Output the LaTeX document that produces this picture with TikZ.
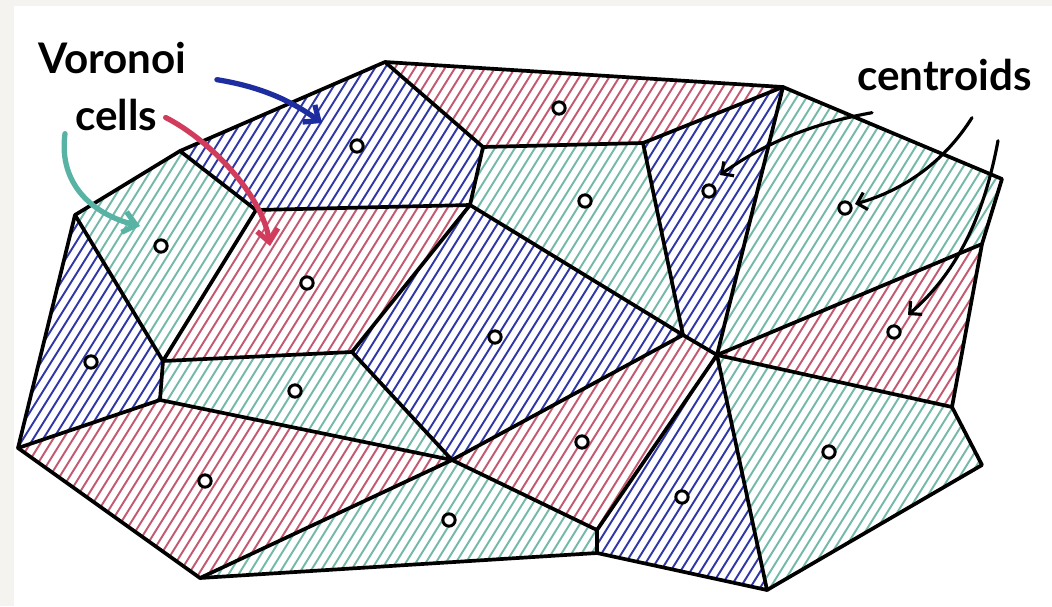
\documentclass[tikz,border=0pt]{standalone}
\usepackage{fontspec}
\setmainfont{Lato}
\usetikzlibrary{arrows.meta}

\definecolor{bleu}{HTML}{3038A8}
\definecolor{rouge}{HTML}{C45A72}
\definecolor{vert}{HTML}{74B9A9}
\definecolor{bleufleche}{HTML}{1D2C9E}
\definecolor{rougefleche}{HTML}{D23C5C}
\definecolor{vertfleche}{HTML}{58B3A5}
\definecolor{fond}{HTML}{F4F3EF}

\tikzset{
  arete/.style={line width=2.1pt, line join=round, line cap=round},
  hachure/.style={line width=1.1pt},
  centroide/.style={circle, draw, fill=white, line width=1.7pt, inner sep=0pt, minimum size=7pt},
  legende/.style={font=\bfseries\fontsize{24}{28}\selectfont, inner sep=0pt, anchor=base west},
  fleche/.style={line width=3pt, line cap=round, -{Straight Barb[length=7pt, width=12pt]}},
  flechenoire/.style={line width=1.8pt, line cap=round, -{Straight Barb[length=5pt, width=10pt]}},
}

\begin{document}
\begin{tikzpicture}[x=0.02cm, y=-0.02cm]

  % Fond gris et zone blanche
  \fill[fond] (0,0) rectangle (1052,606);
  \fill[white] (14,6) rectangle (1052,606);
  \useasboundingbox (0,0) rectangle (1052,606);

  % Les sommets des cellules
  \coordinate (A) at (75,215);
  \coordinate (B) at (180,151);
  \coordinate (C) at (385,62);
  \coordinate (D) at (483,147);
  \coordinate (E) at (470,205);
  \coordinate (F) at (256,210);
  \coordinate (G) at (163,361);
  \coordinate (H) at (160,400);
  \coordinate (I) at (18,448);
  \coordinate (J) at (352,352);
  \coordinate (K) at (452,460);
  \coordinate (L) at (200,578);
  \coordinate (M) at (597,530);
  \coordinate (N) at (597,553);
  \coordinate (O) at (683,335);
  \coordinate (P) at (717,355);
  \coordinate (R) at (643,143);
  \coordinate (T) at (783,87);
  \coordinate (V) at (1002,179);
  \coordinate (W) at (982,244);
  \coordinate (X) at (952,407);
  \coordinate (Y) at (982,465);
  \coordinate (Z) at (767,590);

  % Hachures bleues
  \begin{scope}
    \clip (A) -- (G) -- (H) -- (I) -- cycle
          (B) -- (C) -- (D) -- (E) -- (F) -- cycle
          (J) -- (E) -- (O) -- (K) -- cycle
          (R) -- (T) -- (P) -- (O) -- cycle
          (M) -- (P) -- (Z) -- (N) -- cycle;
    \foreach \x in {-430,-420,...,1060}
      \draw[hachure, bleu] (\x,620) -- ++(420,-672);
  \end{scope}

  % Hachures rouges
  \begin{scope}
    \clip (C) -- (T) -- (R) -- (D) -- cycle
          (F) -- (E) -- (J) -- (G) -- cycle
          (I) -- (H) -- (K) -- (L) -- cycle
          (K) -- (O) -- (P) -- (M) -- cycle
          (W) -- (X) -- (P) -- cycle;
    \foreach \x in {-430,-420,...,1060}
      \draw[hachure, rouge] (\x,620) -- ++(420,-672);
  \end{scope}

  % Hachures vertes
  \begin{scope}
    \clip (A) -- (B) -- (F) -- (G) -- cycle
          (G) -- (J) -- (K) -- (H) -- cycle
          (L) -- (K) -- (M) -- (N) -- cycle
          (D) -- (R) -- (O) -- (E) -- cycle
          (T) -- (V) -- (W) -- (P) -- cycle
          (P) -- (X) -- (Y) -- (Z) -- cycle;
    \foreach \x in {-430,-420,...,1060}
      \draw[hachure, vert] (\x,620) -- ++(420,-672);
  \end{scope}

  % Contours des cellules
  \draw[arete] (A) -- (G) -- (H) -- (I) -- cycle;
  \draw[arete] (A) -- (B) -- (F) -- (G);
  \draw[arete] (B) -- (C) -- (D) -- (E) -- (F);
  \draw[arete] (C) -- (T) -- (R) -- (D);
  \draw[arete] (E) -- (J) -- (G);
  \draw[arete] (J) -- (K) -- (H);
  \draw[arete] (I) -- (L) -- (K);
  \draw[arete] (L) -- (N) -- (M) -- (K);
  \draw[arete] (E) -- (O) -- (K);
  \draw[arete] (R) -- (O) -- (P) -- (T);
  \draw[arete] (M) -- (P) -- (Z) -- (N);
  \draw[arete] (T) -- (V) -- (W) -- (P);
  \draw[arete] (W) -- (X) -- (P);
  \draw[arete] (X) -- (Y) -- (Z);

  % Les centroides
  \node[centroide] (c1) at (91,362) {};
  \node[centroide] (c2) at (161,246) {};
  \node[centroide] (c3) at (357,146) {};
  \node[centroide] (c4) at (559,108) {};
  \node[centroide] (c5) at (307,283) {};
  \node[centroide] (c6) at (295,391) {};
  \node[centroide] (c7) at (205,481) {};
  \node[centroide] (c8) at (449,520) {};
  \node[centroide] (c9) at (495,337) {};
  \node[centroide] (c10) at (585,201) {};
  \node[centroide] (c11) at (709,191) {};
  \node[centroide] (c12) at (582,442) {};
  \node[centroide] (c13) at (682,497) {};
  \node[centroide] (c14) at (845,208) {};
  \node[centroide] (c15) at (894,332) {};
  \node[centroide] (c16) at (829,452) {};

  % Les legendes
  \node[legende] (voronoi) at (38,73) {Voronoi};
  \node[legende] (cells) at (75,130) {cells};
  \node[legende] (centroids) at (857,90) {centroids};

  % Pointes des fleches
  \coordinate (pB) at (322,123);
  \coordinate (pR) at (270,246);
  \coordinate (pV) at (140,226);
  \coordinate (p1) at (720,175);
  \coordinate (p2) at (855,204);
  \coordinate (p3) at (908,315);

  % Fleches de couleur vers les cellules
  \draw[fleche, bleufleche] ([shift={(30,6)}]voronoi.south east) .. controls +(43,7) and +(-32,-23) .. (pB);
  \draw[fleche, rougefleche] ([shift={(8,3)}]cells.east) .. controls +(45,23) and +(-8,-51) .. (pR);
  \draw[fleche, vertfleche] ([shift={(-10,3)}]cells.south west) .. controls +(-7,52) and +(-45,-11) .. (pV);

  % Fleches noires vers les centroides
  \draw[flechenoire] ([shift={(15,22)}]centroids.south west) .. controls +(-72,13) and +(35,-25) .. (p1);
  \draw[flechenoire] ([shift={(115,27)}]centroids.south west) .. controls +(-27,43) and +(50,-14) .. (p2);
  \draw[flechenoire] ([shift={(141,50)}]centroids.south west) .. controls +(-13,70) and +(52,-45) .. (p3);

\end{tikzpicture}
\end{document}
